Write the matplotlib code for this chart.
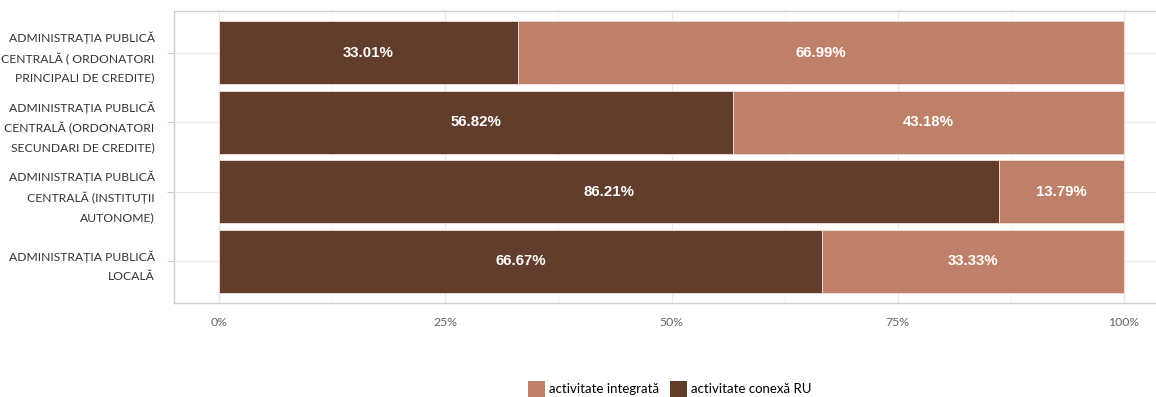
import matplotlib
matplotlib.use("Agg")
import matplotlib.pyplot as plt
from matplotlib.patches import Patch
import numpy as np

categories = [
    "ADMINISTRAȚIA PUBLICĂ\nCENTRALĂ ( ORDONATORI\nPRINCIPALI DE CREDITE)",
    "ADMINISTRAȚIA PUBLICĂ\nCENTRALĂ (ORDONATORI\nSECUNDARI DE CREDITE)",
    "ADMINISTRAȚIA PUBLICĂ\nCENTRALĂ (INSTITUȚII\nAUTONOME)",
    "ADMINISTRAȚIA PUBLICĂ\nLOCALĂ",
]
conexa_ru = [33.01, 56.82, 86.21, 66.67]
integrata = [66.99, 43.18, 13.79, 33.33]
series_names = ["activitate integrată", "activitate conexă RU"]
x_ticks = [0, 25, 50, 75, 100]
x_tick_labels = ["0%", "25%", "50%", "75%", "100%"]

dark = "#633D2C"
light = "#BF8069"

fig = plt.figure(figsize=(11.56, 3.97), dpi=100)
ax = fig.add_axes([174 / 1156, 1 - 303 / 397, (1169 - 174) / 1156, 292 / 397])

pos = np.arange(len(categories))[::-1] + 1
ax.barh(pos, conexa_ru, height=0.9, color=dark, edgecolor="#EFE2DB", linewidth=0.6, zorder=3)
ax.barh(pos, integrata, left=conexa_ru, height=0.9, color=light, edgecolor="#EFE2DB",
        linewidth=0.6, zorder=3)

for p, a, b in zip(pos, conexa_ru, integrata):
    ax.text(a / 2, p, f"{a:.2f}%", ha="center", va="center", color="white",
            fontsize=10.8, fontweight="bold", family="Liberation Sans", zorder=4)
    ax.text(a + b / 2, p, f"{b:.2f}%", ha="center", va="center", color="white",
            fontsize=10.8, fontweight="bold", family="Liberation Sans", zorder=4)

ax.set_xlim(-5, 105)
ax.set_ylim(0.4, 4.6)
ax.set_xticks(x_ticks)
ax.set_xticklabels(x_tick_labels, family="Lato", fontsize=8.8, color="#666666")
ax.set_xticks([12.5, 37.5, 62.5, 87.5], minor=True)
ax.set_yticks(pos)
ax.set_yticklabels(categories, family="Lato", fontsize=8.7, color="#333333",
                   linespacing=1.85)

ax.grid(True, which="major", color="#EBEBEB", linewidth=0.9, zorder=0)
ax.grid(True, which="minor", axis="x", color="#F3F3F3", linewidth=0.6, zorder=0)
ax.tick_params(axis="y", length=5, color="#CCCCCC", pad=9)
ax.tick_params(axis="x", length=0, pad=10)
ax.tick_params(which="minor", length=0)
for s in ax.spines.values():
    s.set_color("#CFCFCF")
    s.set_linewidth(1.0)
ax.spines["right"].set_visible(False)

handles = [Patch(facecolor=light, edgecolor="none"), Patch(facecolor=dark, edgecolor="none")]
fig.legend(handles, series_names, loc="center", bbox_to_anchor=(670 / 1156, 1 - 389 / 397),
           ncol=2, frameon=False, prop={"family": "Lato", "size": 9.5},
           handlelength=1.25, handleheight=1.5, handletextpad=0.35, columnspacing=0.8)

fig.savefig("out.png", dpi=100)
